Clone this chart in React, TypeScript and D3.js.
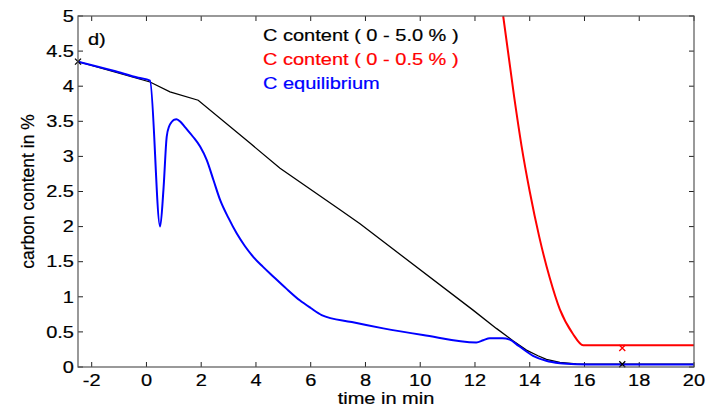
import React from "react";
import * as d3 from "d3";

const xTicks = [-2, 0, 2, 4, 6, 8, 10, 12, 14, 16, 18, 20];
const yTicks = [0, 0.5, 1, 1.5, 2, 2.5, 3, 3.5, 4, 4.5, 5];

const blackX = [-2.5, 0.13, 0.86, 1.89, 3.78, 4.88, 7.07, 7.8, 11.93, 12.78, 13.4, 13.88, 14.3, 14.61, 15.1, 15.7, 16.5, 20];
const blackY = [4.35, 4.06, 3.92, 3.8, 3.19, 2.83, 2.24, 2.04, 0.81, 0.55, 0.37, 0.24, 0.16, 0.11, 0.067, 0.045, 0.04, 0.04];

const blueX = [-2.5, -1.2, -0.3, 0.13, 0.5, 0.62, 0.74, 0.83, 0.92, 1.0, 1.1, 1.25, 1.4, 1.7, 1.96, 2.2, 2.45, 2.69, 3.0, 3.3, 3.6, 3.9, 4.25, 4.63, 5.1, 5.6, 6.0, 6.4, 7.5, 8.65, 10.1, 12.05, 12.3, 12.54, 13.0, 13.27, 13.6, 14.12, 14.6, 15.1, 15.7, 16.5, 20];
const blueY = [4.35, 4.22, 4.12, 4.08, 2.0, 2.52, 3.28, 3.43, 3.49, 3.52, 3.53, 3.49, 3.42, 3.28, 3.14, 2.95, 2.66, 2.38, 2.12, 1.9, 1.72, 1.57, 1.43, 1.29, 1.12, 0.95, 0.84, 0.74, 0.64, 0.55, 0.456, 0.35, 0.38, 0.41, 0.41, 0.39, 0.3, 0.16, 0.09, 0.055, 0.04, 0.035, 0.035];

const redX = [13.03, 13.43, 13.7, 14.0, 14.35, 14.73, 15.1, 15.58, 15.95, 20];
const redY = [5.0, 3.85, 3.15, 2.5, 1.85, 1.27, 0.82, 0.47, 0.31, 0.31];

const markBlack = [[-2.5, 4.35], [17.38, 0.04]];
const markRed = [[17.38, 0.27]];

const legendLabels = ["C content ( 0 - 5.0 % )", "C content ( 0 - 0.5 % )", "C equilibrium"];
const legendColors = ["#000000", "#ff0000", "#0000ff"];

const W = 707, H = 409;
const L = 78, R = 694, T = 16, B = 367;
const SX = 1.25;
const FS = 16;
const FONT = "'Liberation Sans', Arial, sans-serif";

function Txt({ x, y, anchor = "start", fill = "#000", size = FS, children, dy = "0" }: any) {
  return (
    <g transform={`translate(${x},${y}) scale(${SX},1)`}>
      <text textAnchor={anchor} fill={fill} stroke={fill} strokeWidth={0.2} fontSize={size} fontFamily={FONT} dy={dy}>{children}</text>
    </g>
  );
}

export default function App() {
  const x = d3.scaleLinear().domain([-2.5, 20]).range([L, R]);
  const y = d3.scaleLinear().domain([0, 5]).range([B, T]);
  const lineLin = d3.line<number>().curve(d3.curveLinear);
  const lineSm = d3.line<number>().curve(d3.curveMonotoneX);
  const mk = (xs: number[], ys: number[], ln: any) =>
    ln(xs.map((v, i) => [x(v), y(ys[i])]) as any) as string;

  const cross = (cx: number, cy: number, c: string, k: string) => (
    <path key={k} d={`M${cx - 3},${cy - 3}L${cx + 3},${cy + 3}M${cx - 3},${cy + 3}L${cx + 3},${cy - 3}`} stroke={c} strokeWidth={1.3} />
  );

  return (
    <svg width={W} height={H} style={{ position: "absolute", left: 0, top: 0, background: "#fff" }}>
      <rect x={0} y={0} width={W} height={H} fill="#fff" />
      <defs>
        <clipPath id="pc"><rect x={L} y={T - 1} width={R - L} height={B - T + 2} /></clipPath>
      </defs>
      {xTicks.map((t) => (
        <g key={"xt" + t}>
          <line x1={x(t)} x2={x(t)} y1={B} y2={B - 5} stroke="#222" strokeWidth={1} />
          <line x1={x(t)} x2={x(t)} y1={T} y2={T + 5} stroke="#222" strokeWidth={1} />
          <Txt x={x(t)} y={385.5} anchor="middle">{t < 0 ? "-" + Math.abs(t) : String(t)}</Txt>
        </g>
      ))}
      {yTicks.map((t) => (
        <g key={"yt" + t}>
          <line x1={L} x2={L + 5} y1={y(t)} y2={y(t)} stroke="#222" strokeWidth={1} />
          <line x1={R} x2={R - 5} y1={y(t)} y2={y(t)} stroke="#222" strokeWidth={1} />
          <Txt x={74} y={y(t)} anchor="end" dy="0.36em">{String(t)}</Txt>
        </g>
      ))}
      <g clipPath="url(#pc)">
        <path d={mk(blackX, blackY, lineLin)} fill="none" stroke="#000" strokeWidth={1.3} />
        <path d={mk(redX, redY, lineSm)} fill="none" stroke="#ff0000" strokeWidth={2} />
        <path d={mk(blueX, blueY, lineSm)} fill="none" stroke="#0000ff" strokeWidth={2} strokeLinejoin="round" />
      </g>
      {markBlack.map((p, i) => cross(x(p[0]), y(p[1]), "#000", "mb" + i))}
      {markRed.map((p, i) => cross(x(p[0]), y(p[1]), "#ff0000", "mr" + i))}
      <rect x={L} y={T} width={R - L} height={B - T} fill="none" stroke="#555" strokeWidth={1.2} />
      <Txt x={88} y={45}>d)</Txt>
      {legendLabels.map((s, i) => (
        <Txt key={s} x={263} y={41 + i * 24} fill={legendColors[i]}>{s}</Txt>
      ))}
      <Txt x={(L + R) / 2} y={404} anchor="middle">time in min</Txt>
      <text transform={`translate(34,${(T + B) / 2}) rotate(-90)`} textAnchor="middle" fontSize={17.5} fontFamily={FONT} fill="#000" stroke="#000" strokeWidth={0.2}>carbon content in %</text>
    </svg>
  );
}
